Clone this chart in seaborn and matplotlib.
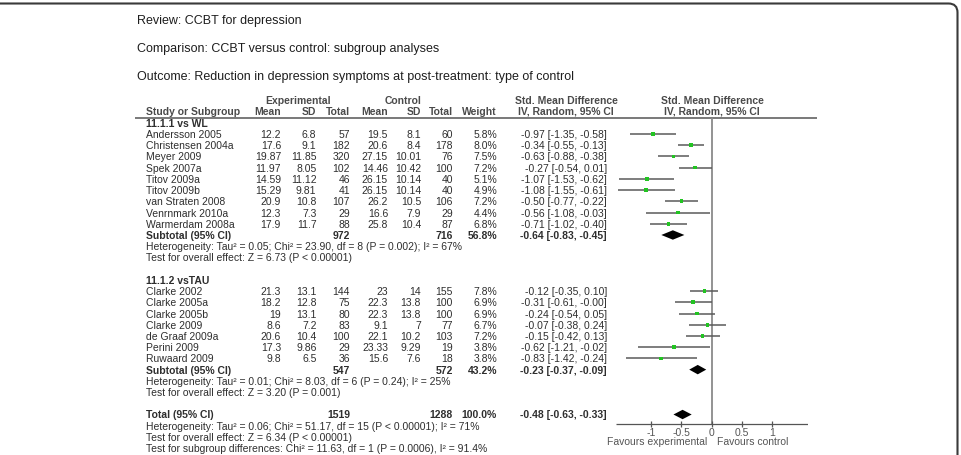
import numpy as np
import pandas as pd
import matplotlib
matplotlib.use("Agg")
import matplotlib.pyplot as plt
from matplotlib.patches import FancyBboxPatch
import seaborn as sns

# --- data ---
titles = ["Review: CCBT for depression",
          "Comparison: CCBT versus control: subgroup analyses",
          "Outcome: Reduction in depression symptoms at post-treatment: type of control"]

# subgroup 11.1.1 vs waiting list
wl_studies = ["Andersson 2005", "Christensen 2004a", "Meyer 2009", "Spek 2007a", "Titov 2009a",
              "Titov 2009b", "van Straten 2008", "Venrnmark 2010a", "Warmerdam 2008a"]
wl_exp_mean = [12.2, 17.6, 19.87, 11.97, 14.59, 15.29, 20.9, 12.3, 17.9]
wl_exp_sd = [6.8, 9.1, 11.85, 8.05, 11.12, 9.81, 10.8, 7.3, 11.7]
wl_exp_n = [57, 182, 320, 102, 46, 41, 107, 29, 88]
wl_ctl_mean = [19.5, 20.6, 27.15, 14.46, 26.15, 26.15, 26.2, 16.6, 25.8]
wl_ctl_sd = [8.1, 8.4, 10.01, 10.42, 10.14, 10.14, 10.5, 7.9, 10.4]
wl_ctl_n = [60, 178, 76, 100, 40, 40, 106, 29, 87]
wl_weight = [5.8, 8.0, 7.5, 7.2, 5.1, 4.9, 7.2, 4.4, 6.8]
wl_smd = [-0.97, -0.34, -0.63, -0.27, -1.07, -1.08, -0.50, -0.56, -0.71]
wl_lo = [-1.35, -0.55, -0.88, -0.54, -1.53, -1.55, -0.77, -1.08, -1.02]
wl_hi = [-0.58, -0.13, -0.38, 0.01, -0.62, -0.61, -0.22, -0.03, -0.40]
wl_sub = [972, 716, 56.8, -0.64, -0.83, -0.45]
wl_het = "Heterogeneity: Tau\u00b2 = 0.05; Chi\u00b2 = 23.90, df = 8 (P = 0.002); I\u00b2 = 67%"
wl_test = "Test for overall effect: Z = 6.73 (P < 0.00001)"

# subgroup 11.1.2 vs treatment as usual
tau_studies = ["Clarke 2002", "Clarke 2005a", "Clarke 2005b", "Clarke 2009", "de Graaf 2009a",
               "Perini 2009", "Ruwaard 2009"]
tau_exp_mean = [21.3, 18.2, 19, 8.6, 20.6, 17.3, 9.8]
tau_exp_sd = [13.1, 12.8, 13.1, 7.2, 10.4, 9.86, 6.5]
tau_exp_n = [144, 75, 80, 83, 100, 29, 36]
tau_ctl_mean = [23, 22.3, 22.3, 9.1, 22.1, 23.33, 15.6]
tau_ctl_sd = [14, 13.8, 13.8, 7, 10.2, 9.29, 7.6]
tau_ctl_n = [155, 100, 100, 77, 103, 19, 18]
tau_weight = [7.8, 6.9, 6.9, 6.7, 7.2, 3.8, 3.8]
tau_smd = [-0.12, -0.31, -0.24, -0.07, -0.15, -0.62, -0.83]
tau_lo = [-0.35, -0.61, -0.54, -0.38, -0.42, -1.21, -1.42]
tau_hi = [0.10, -0.0, 0.05, 0.24, 0.13, -0.02, -0.24]
tau_sub = [547, 572, 43.2, -0.23, -0.37, -0.09]
tau_het = "Heterogeneity: Tau\u00b2 = 0.01; Chi\u00b2 = 8.03, df = 6 (P = 0.24); I\u00b2 = 25%"
tau_test = "Test for overall effect: Z = 3.20 (P = 0.001)"

total = [1519, 1288, 100.0, -0.48, -0.63, -0.33]
total_notes = ["Heterogeneity: Tau\u00b2 = 0.06; Chi\u00b2 = 51.17, df = 15 (P < 0.00001); I\u00b2 = 71%",
               "Test for overall effect: Z = 6.34 (P < 0.00001)",
               "Test for subgroup differences: Chi\u00b2 = 11.63, df = 1 (P = 0.0006), I\u00b2 = 91.4%"]

ticks = [-1, -0.5, 0, 0.5, 1]
tick_labels = ["-1", "-0.5", "0", "0.5", "1"]

# --- layout (pixels of the 961x456 picture) ---
W, H = 961, 456
ROW0, ROWH = 135, 11.22        # y of first study row, row pitch
ZERO_X, UNIT, XLIM = 711.7, 60.7, 1.58
STUDY_X = 146
COL_X = [281, 316.5, 350, 388, 421, 453, 497]   # right edges of numeric columns
SMD_X = 607
FS = 7.5
BODY = "#2e2e2e"
HEAD = "#4a4a4a"

sns.set_theme(style="white")
plt.rcParams["font.family"] = ["Liberation Sans", "DejaVu Sans"]

k_top = (0 - ROW0) / ROWH
k_bot = (H - ROW0) / ROWH

fig = plt.figure(figsize=(W / 100, H / 100), dpi=100)

# frame axes (pixel coords)
bax = fig.add_axes([0, 0, 1, 1])
bax.set_xlim(0, W)
bax.set_ylim(H, 0)
bax.axis("off")
bax.add_patch(FancyBboxPatch((-20, 4.5), 977.5, 500, boxstyle="round,pad=0,rounding_size=9",
                             fill=False, edgecolor="#3a3a3a", linewidth=1.5))

# text axes: x in pixels, y in row units
tax = fig.add_axes([0, 0, 1, 1])
tax.set_xlim(0, W)
tax.set_ylim(k_bot, k_top)
tax.axis("off")

# forest axes: x in effect units, y in row units
left = (ZERO_X - XLIM * UNIT) / W
fax = fig.add_axes([left, 0, 2 * XLIM * UNIT / W, 1])
fax.set_xlim(-XLIM, XLIM)
fax.set_ylim(k_bot, k_top)
fax.axis("off")
fax.set_facecolor("none")


def put(x, k, s, ha="left", bold=False, color=BODY, size=FS):
    tax.text(x, k, s, ha=ha, va="center", fontsize=size, color=color,
             fontweight="bold" if bold else "normal")


def num(v):
    return f"{v:g}"


def smd_text(e, lo, hi):
    return f"{e:.2f} [{lo:.2f}, {hi:.2f}]"


# titles
for i, t in enumerate(titles):
    put(137, (21 + 28 * i - ROW0) / ROWH, t, size=9, color="#1e1e1e")

# header
put(298, -3, "Experimental", ha="center", bold=True, color=HEAD)
put(403, -3, "Control", ha="center", bold=True, color=HEAD)
put(566, -3, "Std. Mean Difference", ha="center", bold=True, color=HEAD)
put(712, -3, "Std. Mean Difference", ha="center", bold=True, color=HEAD)
put(STUDY_X, -2.05, "Study or Subgroup", bold=True, color=HEAD)
for x, h in zip(COL_X, ["Mean", "SD", "Total", "Mean", "SD", "Total", "Weight"]):
    put(x, -2.05, h, ha="right", bold=True, color=HEAD)
put(566, -2.05, "IV, Random, 95% CI", ha="center", bold=True, color=HEAD)
put(712, -2.05, "IV, Random, 95% CI", ha="center", bold=True, color=HEAD)
tax.hlines(-1.45, 135, 817, color="#555555", linewidth=1.1)

# study rows
groups = [
    ("11.1.1 vs WL", wl_studies, wl_exp_mean, wl_exp_sd, wl_exp_n, wl_ctl_mean, wl_ctl_sd,
     wl_ctl_n, wl_weight, wl_smd, wl_lo, wl_hi, wl_sub, wl_het, wl_test),
    ("11.1.2 vsTAU", tau_studies, tau_exp_mean, tau_exp_sd, tau_exp_n, tau_ctl_mean, tau_ctl_sd,
     tau_ctl_n, tau_weight, tau_smd, tau_lo, tau_hi, tau_sub, tau_het, tau_test),
]

frames = []
diamonds = []
k = -1
for (label, st, em, esd, en, cm, csd, cn, w, smd, lo, hi, sub, het, test) in groups:
    put(STUDY_X, k, label, bold=True)
    k += 1
    df = pd.DataFrame({"study": st, "smd": smd, "lo": lo, "hi": hi, "weight": w,
                       "row": np.arange(k, k + len(st))})
    frames.append(df)
    for i in range(len(st)):
        r = k + i
        put(STUDY_X, r, st[i])
        vals = [num(em[i]), num(esd[i]), str(en[i]), num(cm[i]), num(csd[i]), str(cn[i]),
                f"{w[i]:.1f}%"]
        for x, v in zip(COL_X, vals):
            put(x, r, v, ha="right")
        put(SMD_X, r, smd_text(smd[i], lo[i], hi[i]), ha="right")
    k += len(st)
    put(STUDY_X, k, "Subtotal (95% CI)", bold=True)
    put(COL_X[2], k, str(sub[0]), ha="right", bold=True)
    put(COL_X[5], k, str(sub[1]), ha="right", bold=True)
    put(COL_X[6], k, f"{sub[2]:.1f}%", ha="right", bold=True)
    put(SMD_X, k, smd_text(*sub[3:]), ha="right", bold=True)
    diamonds.append((k, sub[3], sub[4], sub[5]))
    put(STUDY_X, k + 1, het)
    put(STUDY_X, k + 2, test)
    k += 4

# overall total, one blank row after the last subgroup
put(STUDY_X, k, "Total (95% CI)", bold=True)
put(COL_X[2], k, str(total[0]), ha="right", bold=True)
put(COL_X[5], k, str(total[1]), ha="right", bold=True)
put(COL_X[6], k, f"{total[2]:.1f}%", ha="right", bold=True)
put(SMD_X, k, smd_text(*total[3:]), ha="right", bold=True)
diamonds.append((k, total[3], total[4], total[5]))
for j, t in enumerate(total_notes):
    put(STUDY_X, k + 1 + j, t)

studies = pd.concat(frames, ignore_index=True)

# forest plot
axis_k = (425 - ROW0) / ROWH
fax.vlines(0, -1.45, axis_k, color="#8a8a8a", linewidth=1.3)
fax.hlines(studies["row"], studies["lo"], studies["hi"], color="#5a5a5a", linewidth=1.1)
sns.scatterplot(data=studies, x="smd", y="row", ax=fax, marker="s", s=7,
                color="#22c322", edgecolor="none", legend=False, zorder=3)
for r, e, lo, hi in diamonds:
    fax.fill([lo, e, hi, e], [r, r - 0.42, r, r + 0.42], color="black", linewidth=0)

fax.hlines(axis_k, -XLIM, XLIM, color="#555555", linewidth=0.9)
fax.vlines(ticks, axis_k - 0.28, axis_k + 0.28, color="#555555", linewidth=0.9)
for t, lab in zip(ticks, tick_labels):
    fax.text(t, (432.7 - ROW0) / ROWH, lab, ha="center", va="center", fontsize=FS, color="#555555")
fav_k = (442 - ROW0) / ROWH
fax.text(-0.08, fav_k, "Favours experimental", ha="right", va="center", fontsize=FS, color="#555555")
fax.text(0.08, fav_k, "Favours control", ha="left", va="center", fontsize=FS, color="#555555")
fax.set_xlabel("")
fax.set_ylabel("")

fig.savefig("out.png", dpi=100)
